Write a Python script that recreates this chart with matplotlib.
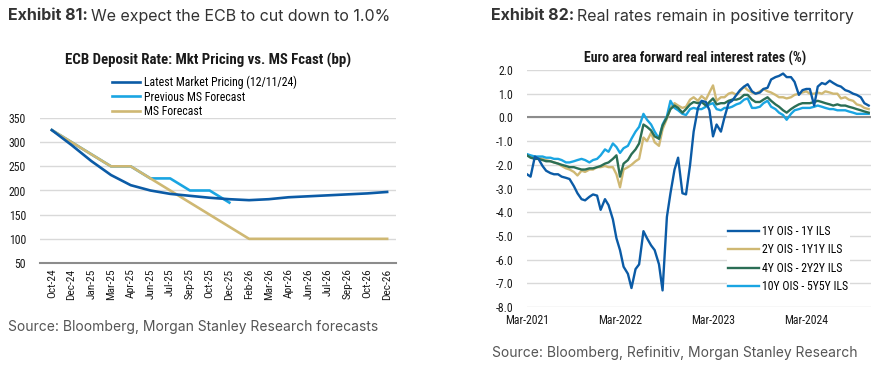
import matplotlib
matplotlib.use("Agg")
import matplotlib.pyplot as plt
import matplotlib.dates as mdates
from matplotlib import font_manager
import pandas as pd
import numpy as np

# ---------------- data: left chart ----------------
meetings = ["Oct-24", "Dec-24", "Jan-25", "Mar-25", "Apr-25", "Jun-25", "Jul-25", "Sep-25",
            "Oct-25", "Dec-25", "Feb-26", "Mar-26", "Apr-26", "Jun-26", "Jul-26", "Sep-26",
            "Oct-26", "Dec-26"]
latest_mkt = [325, 294, 261, 232, 211, 200, 193, 189, 185, 182, 180, 182, 186, 188, 190, 192, 194, 197]
prev_ms = [325, 300, 275, 250, 250, 225, 225, 200, 200, 175]
ms_fcast = [325, 300, 275, 250, 250, 225, 200, 175, 150, 125, 100, 100, 100, 100, 100, 100, 100, 100]
left_yticks = [50, 100, 150, 200, 250, 300, 350]

# ---------------- data: right chart (semi-monthly readings) ----------------
rr_dates = pd.date_range("2021-03-01", "2024-11-01", freq="SMS")
oy_1y = [-2.4, -2.5, -1.65, -1.75, -2.05, -2.25, -2.35, -2.4, -2.4, -2.5,
         -2.55, -2.6, -2.9, -3.2, -3.45, -3.5, -3.35, -3.25, -3.3, -3.9,
         -3.45, -3.7, -4.3, -5.1, -5.6, -6.3, -6.6, -7.2, -6.4, -6.2,
         -4.8, -5.1, -5.4, -5.6, -6.2, -7.3, -4.2, -3.2, -2.2, -1.7,
         -3.2, -3.25, -2.0, -0.6, 0.4, 0.7, 0.65, 0.3, -0.8, -0.3,
         -0.6, 0.0, 0.6, 0.7, 0.95, 1.15, 1.3, 1.4, 1.1, 1.0,
         1.05, 1.2, 1.25, 1.6, 1.7, 1.75, 1.85, 1.7, 1.7, 1.5,
         0.95, 1.15, 1.2, 1.2, 0.5, 1.3, 1.45, 1.4, 1.55, 1.45,
         1.35, 1.3, 1.15, 1.1, 1.0, 0.95, 0.85, 0.6, 0.5]
oy_2y = [-1.6, -1.65, -1.7, -1.7, -1.75, -1.8, -1.85, -1.9, -1.95, -2.05,
         -2.15, -2.2, -2.3, -2.45, -2.25, -2.3, -2.2, -2.2, -2.1, -2.1,
         -2.05, -2.1, -2.1, -2.4, -2.95, -2.2, -2.1, -2.0, -1.85, -1.75,
         -0.85, -1.0, -0.65, -1.05, -1.2, -0.5, -0.05, 0.4, 0.6, 0.5,
         0.4, 0.45, 0.75, 0.85, 0.7, 0.9, 0.75, 1.05, 1.35, 0.7,
         0.85, 0.85, 1.0, 1.05, 0.95, 1.1, 1.3, 1.15, 1.05, 1.0,
         1.1, 1.2, 1.1, 1.05, 0.95, 0.85, 0.85, 0.8, 0.85, 0.95,
         1.0, 1.05, 1.1, 1.0, 1.0, 1.05, 1.0, 1.1, 1.05, 1.0,
         1.0, 0.8, 0.85, 0.75, 0.7, 0.55, 0.5, 0.4, 0.35]
oy_4y = [-1.6, -1.7, -1.75, -1.75, -1.8, -1.85, -1.85, -1.9, -1.95, -2.0,
         -2.05, -2.1, -2.1, -2.15, -2.2, -2.2, -2.15, -2.15, -2.1, -2.05,
         -1.95, -1.9, -1.75, -1.6, -2.5, -1.95, -1.8, -1.55, -1.35, -1.1,
         -0.3, -0.4, -0.55, -0.8, -0.9, -0.35, 0.0, 0.35, 0.5, 0.4,
         0.2, 0.35, 0.55, 0.65, 0.6, 0.65, 0.5, 0.65, 0.8, 0.55,
         0.6, 0.6, 0.7, 0.75, 0.75, 0.8, 0.95, 0.95, 0.75, 0.65,
         0.65, 0.75, 0.85, 0.7, 0.55, 0.45, 0.3, 0.2, 0.35, 0.45,
         0.55, 0.6, 0.6, 0.6, 0.65, 0.7, 0.65, 0.6, 0.55, 0.5,
         0.55, 0.5, 0.5, 0.45, 0.4, 0.35, 0.3, 0.25, 0.2]
oy_10y = [-1.55, -1.6, -1.65, -1.65, -1.65, -1.7, -1.7, -1.75, -1.75, -1.8,
          -1.9, -1.9, -1.85, -1.8, -1.75, -1.8, -1.9, -1.8, -1.75, -1.6,
          -1.35, -1.45, -1.1, -1.25, -1.5, -1.3, -1.2, -0.9, -0.6, -0.4,
          0.15, -0.1, -0.3, -0.6, -0.9, -0.3, 0.05, 0.7, 0.4, 0.3,
          0.15, 0.1, 0.35, 0.4, 0.35, 0.35, 0.45, 0.55, 0.6, 0.35,
          0.3, 0.4, 0.4, 0.45, 0.55, 0.6, 0.75, 0.8, 0.4, 0.4,
          0.45, 0.6, 0.7, 0.45, 0.35, 0.2, 0.1, -0.1, 0.15, 0.3,
          0.35, 0.4, 0.4, 0.4, 0.45, 0.5, 0.45, 0.4, 0.35, 0.35,
          0.3, 0.3, 0.3, 0.25, 0.2, 0.15, 0.15, 0.15, 0.15]
right_yticks = [2.0, 1.0, 0.0, -1.0, -2.0, -3.0, -4.0, -5.0, -6.0, -7.0, -8.0]
right_xticks = ["2021-03-01", "2022-03-01", "2023-03-01", "2024-03-01"]
right_labels = ["1Y OIS - 1Y ILS", "2Y OIS - 1Y1Y ILS", "4Y OIS - 2Y2Y ILS", "10Y OIS - 5Y5Y ILS"]

# ---------------- styling ----------------
installed = {f.name for f in font_manager.fontManager.ttflist}
def pick(*names):
    for n in names:
        if n in installed:
            return n
    return "DejaVu Sans"
CHART_FONT = pick("Liberation Sans Narrow", "Roboto Condensed", "Liberation Sans", "Roboto")
HEAD_FONT = pick("Inter", "Open Sans", "Lato")

DARK_BLUE = "#0B5BA6"
LIGHT_BLUE = "#1AA5E2"
TAN = "#CFB873"
GREEN = "#2B6E55"
GRID = "#D9D9D9"
AXIS = "#8C8C8C"
TEXT = "#1A1A1A"

W, H = 877, 370
fig = plt.figure(figsize=(W / 100, H / 100), dpi=100)
fig.patch.set_facecolor("white")

def ax_rect(x0, x1, ytop, ybot):
    return [x0 / W, 1 - ybot / H, (x1 - x0) / W, (ybot - ytop) / H]

def fx(px):
    return px / W

def fy(py):
    return 1 - py / H

renderer = fig.canvas.get_renderer()

def heading(x_px, y_px, bold, rest, size):
    t = fig.text(fx(x_px), fy(y_px), bold, fontsize=size, fontweight="bold",
                 family=HEAD_FONT, color="#333333", va="center", ha="left")
    bb = t.get_window_extent(renderer=renderer)
    fig.text(bb.x1 / W + 3 / W, fy(y_px), rest, fontsize=size, family=HEAD_FONT,
             color="#333333", va="center", ha="left")

heading(8, 16, "Exhibit 81:", "We expect the ECB to cut down to 1.0%", 11.5)
heading(491, 16, "Exhibit 82:", "Real rates remain in positive territory", 11.5)
fig.text(fx(8), fy(327), "Source: Bloomberg, Morgan Stanley Research forecasts",
         fontsize=10.0, family=HEAD_FONT, color="#555555", va="center", ha="left")
fig.text(fx(492), fy(353), "Source: Bloomberg, Refinitiv, Morgan Stanley Research",
         fontsize=10.0, family=HEAD_FONT, color="#555555", va="center", ha="left")

# ---------------- left chart ----------------
axl = fig.add_axes(ax_rect(40, 396, 118, 263))
xl = np.arange(len(meetings))
axl.plot(xl, latest_mkt, color=DARK_BLUE, lw=1.9, label="Latest Market Pricing (12/11/24)", zorder=3)
axl.plot(xl[:len(prev_ms)], prev_ms, color=LIGHT_BLUE, lw=1.9, label="Previous MS Forecast", zorder=2)
axl.plot(xl, ms_fcast, color=TAN, lw=1.9, label="MS Forecast", zorder=2.5)
axl.set_ylim(50, 350)
axl.set_xlim(-0.6, 17.45)
axl.set_yticks(left_yticks)
axl.set_xticks(xl)
axl.set_xticklabels(meetings, rotation=90, fontsize=8.2, family=CHART_FONT, color=TEXT)
for lab in axl.get_yticklabels():
    lab.set_fontsize(8.5)
    lab.set_family(CHART_FONT)
    lab.set_color(TEXT)
axl.tick_params(axis="both", length=0, pad=4)
axl.tick_params(axis="y", pad=10)
axl.grid(axis="y", color=GRID, lw=1)
axl.set_axisbelow(True)
for s in ["top", "right", "left"]:
    axl.spines[s].set_visible(False)
axl.spines["bottom"].set_color(AXIS)
axl.spines["bottom"].set_linewidth(1.5)
axl.text(0.5 * (65 + 352) / W, fy(60), "ECB Deposit Rate: Mkt Pricing vs. MS Fcast (bp)",
         transform=fig.transFigure, ha="center", va="center", fontsize=10.7,
         fontweight="bold", family=CHART_FONT, color=TEXT)
legl = axl.legend(loc="upper left", bbox_to_anchor=(fx(112), fy(76)), bbox_transform=fig.transFigure,
                  frameon=False, handlelength=2.4, handletextpad=0.3,
                  labelspacing=0.1, borderpad=0, borderaxespad=0,
                  prop={"family": CHART_FONT, "size": 8.5})

# ---------------- right chart ----------------
axr = fig.add_axes(ax_rect(527, 871, 70, 307))
series = [(oy_1y, DARK_BLUE, 4), (oy_2y, TAN, 3), (oy_4y, GREEN, 3.5), (oy_10y, LIGHT_BLUE, 3.2)]
for (vals, col, z), lab in zip(series, right_labels):
    axr.plot(rr_dates, vals, color=col, lw=1.7, label=lab, zorder=z)
axr.set_ylim(-8, 2)
axr.set_xlim(pd.Timestamp("2021-03-01"), pd.Timestamp("2024-11-10"))
axr.set_yticks(right_yticks)
axr.set_yticklabels([f"{v:.1f}" for v in right_yticks], fontsize=8.5, family=CHART_FONT, color=TEXT)
axr.set_xticks(pd.to_datetime(right_xticks))
axr.xaxis.set_major_formatter(mdates.DateFormatter("%b-%Y"))
for lab in axr.get_xticklabels():
    lab.set_fontsize(8.5)
    lab.set_family(CHART_FONT)
    lab.set_color(TEXT)
axr.tick_params(axis="both", length=0)
axr.tick_params(axis="y", pad=10)
axr.tick_params(axis="x", pad=5)
axr.grid(axis="y", color=GRID, lw=1)
axr.set_axisbelow(True)
axr.axhline(0, color=AXIS, lw=1.5, zorder=1)
for s in ["top", "right", "left", "bottom"]:
    axr.spines[s].set_visible(False)
axr.text(695 / W, fy(58), "Euro area forward real interest rates (%)",
         transform=fig.transFigure, ha="center", va="center", fontsize=10,
         fontweight="bold", family=CHART_FONT, color=TEXT)
legr = axr.legend(loc="upper left", bbox_to_anchor=(fx(727), fy(224)), bbox_transform=fig.transFigure,
                  frameon=True, facecolor="white", edgecolor="none", framealpha=1, fancybox=False,
                  handlelength=2.6, handletextpad=0.3, labelspacing=0.45, borderpad=0.1,
                  borderaxespad=0, prop={"family": CHART_FONT, "size": 8.5})

fig.savefig("out.png", dpi=100, facecolor="white")
